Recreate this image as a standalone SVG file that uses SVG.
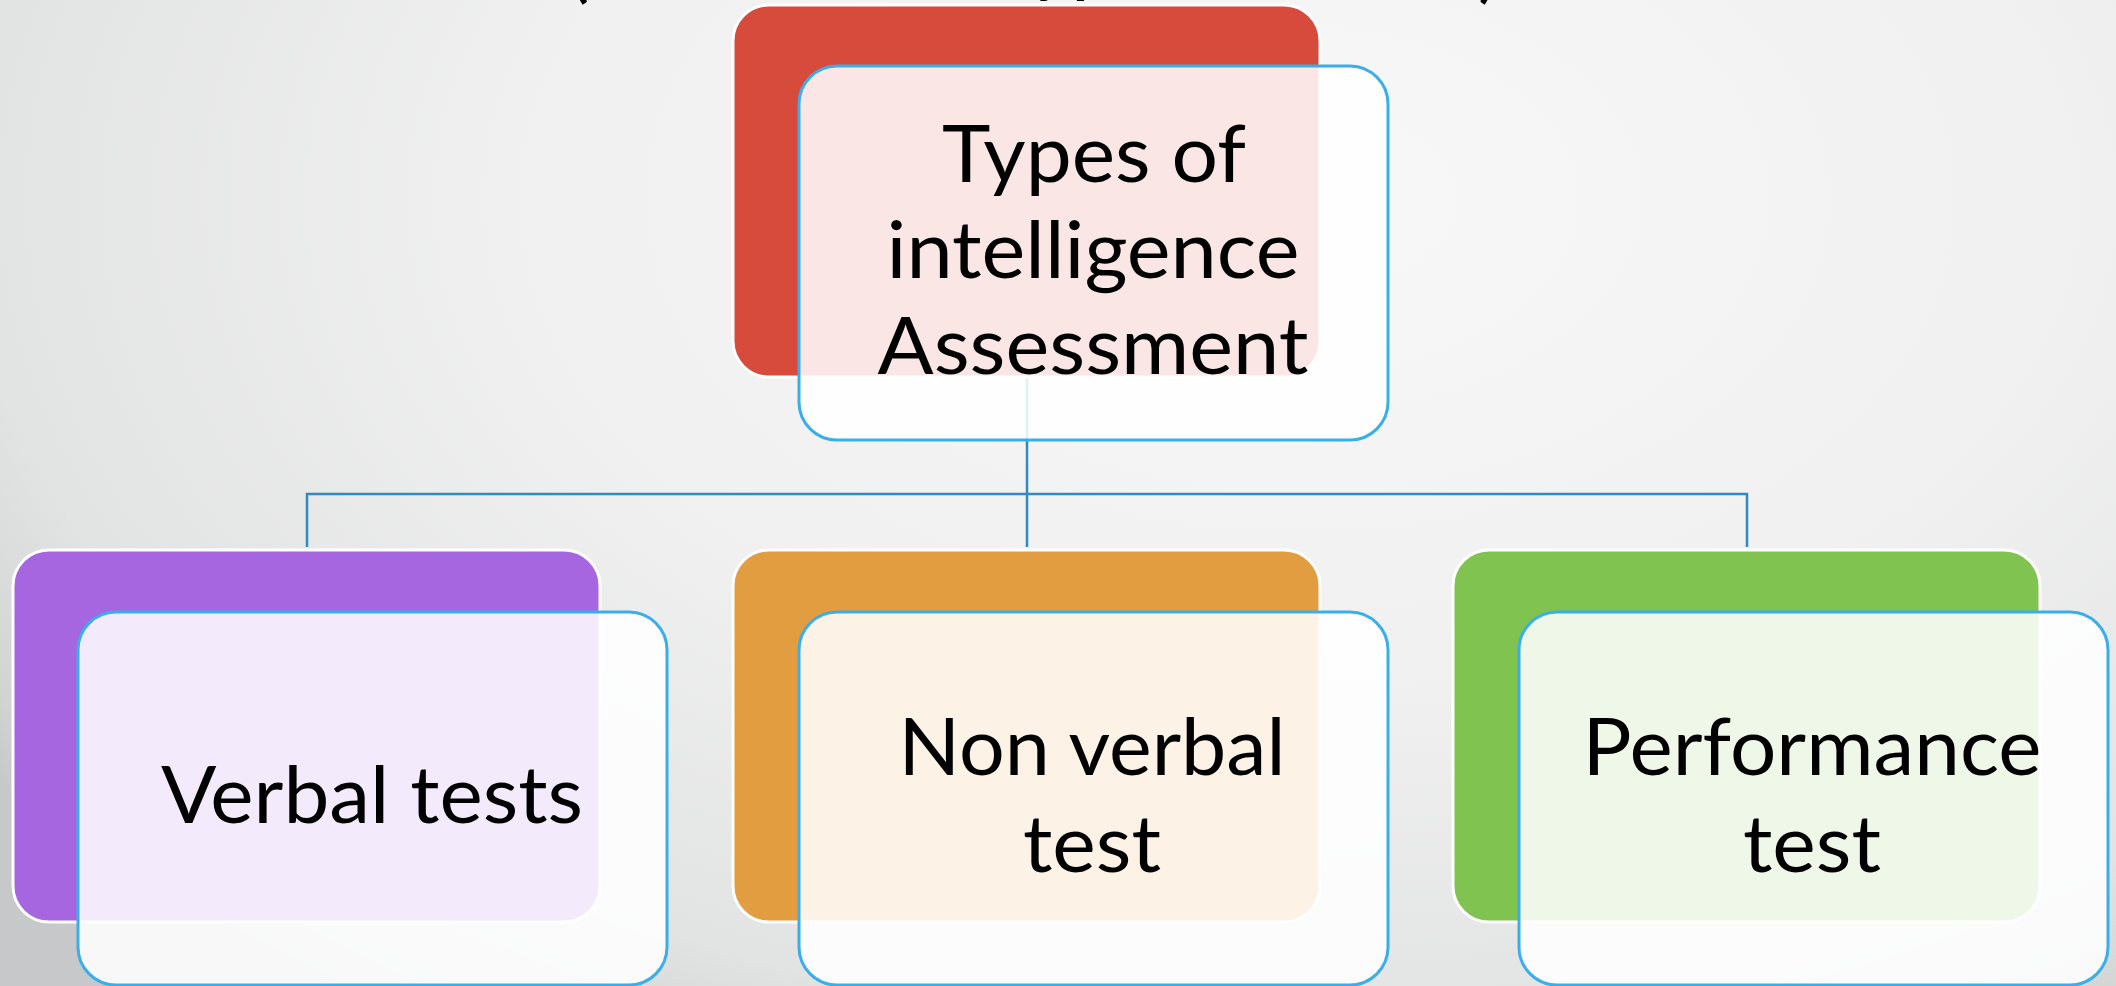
<svg xmlns="http://www.w3.org/2000/svg" width="2116" height="986" viewBox="0 0 2116 986">
<defs>
<radialGradient id="bg" gradientUnits="userSpaceOnUse" cx="1300" cy="200" r="1000" gradientTransform="translate(1300 200) scale(1.6 1) translate(-1300 -200)">
<stop offset="0" stop-color="#f8f8f8"/>
<stop offset="0.5" stop-color="#f0f0f0"/>
<stop offset="0.83" stop-color="#e2e3e3"/>
<stop offset="0.95" stop-color="#d2d4d4"/>
<stop offset="1" stop-color="#c6c8c9"/>
</radialGradient>
<style>
.back{stroke:#ffffff;stroke-width:3}
.front{fill:#ffffff;fill-opacity:0.87;stroke:#3aaee9;stroke-width:3}
.lbl{font-family:Lato,"Liberation Sans",sans-serif;font-size:80px;fill:#000000;text-anchor:middle}
.conn{fill:none;stroke:#2e8bc3;stroke-width:2.5}
.title{font-family:Lato,"Liberation Sans",sans-serif;font-size:80px;fill:#000000}
</style>
</defs>
<rect x="0" y="0" width="2116" height="986" fill="url(#bg)"/>
<g id="title-fragments">
<text class="title" x="568" y="-7">(</text>
<text class="title" x="1030" y="-13">yp</text>
<text class="title" x="1478" y="-7">)</text>
</g>
<g id="connectors">
<path class="conn" d="M1027 377 V494"/>
<path class="conn" d="M307 547 V494 H1747 V547" stroke-width="3"/>
<path class="conn" d="M1027 494 V547"/>
</g>
<g id="node-root">
<rect class="back" x="733" y="5" width="587" height="372" rx="36" fill="#d64b3c"/>
<rect class="front" x="799" y="66" width="589" height="374" rx="38"/>
<text class="lbl" x="1094" y="182" textLength="304" lengthAdjust="spacingAndGlyphs">Types of</text>
<text class="lbl" x="1093" y="278" textLength="413" lengthAdjust="spacingAndGlyphs">intelligence</text>
<text class="lbl" x="1093" y="374" textLength="431" lengthAdjust="spacingAndGlyphs">Assessment</text>
</g>
<g id="node-verbal">
<rect class="back" x="13" y="550" width="587" height="372" rx="36" fill="#a566e0"/>
<rect class="front" x="78" y="612" width="589" height="373" rx="38"/>
<text class="lbl" x="372" y="823" textLength="422" lengthAdjust="spacingAndGlyphs">Verbal tests</text>
</g>
<g id="node-nonverbal">
<rect class="back" x="733" y="550" width="587" height="372" rx="36" fill="#e29d40"/>
<rect class="front" x="799" y="612" width="589" height="373" rx="38"/>
<text class="lbl" x="1092" y="775" textLength="387" lengthAdjust="spacingAndGlyphs">Non verbal</text>
<text class="lbl" x="1092" y="872" textLength="138" lengthAdjust="spacingAndGlyphs">test</text>
</g>
<g id="node-performance">
<rect class="back" x="1453" y="550" width="587" height="372" rx="36" fill="#80c350"/>
<rect class="front" x="1519" y="612" width="589" height="373" rx="38"/>
<text class="lbl" x="1812" y="775" textLength="459" lengthAdjust="spacingAndGlyphs">Performance</text>
<text class="lbl" x="1812" y="872" textLength="138" lengthAdjust="spacingAndGlyphs">test</text>
</g>
</svg>
